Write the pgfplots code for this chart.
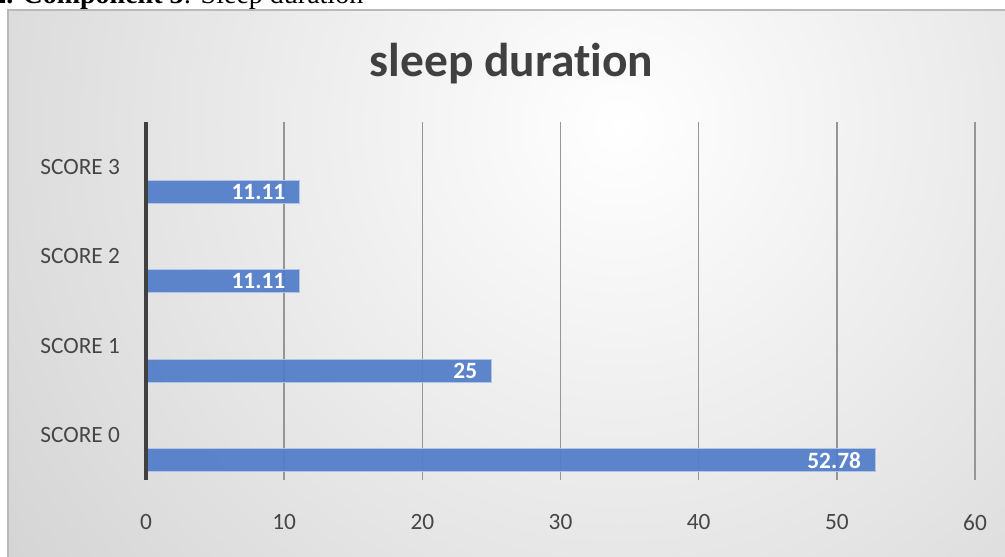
\documentclass[border=0pt]{standalone}
\usepackage{pgfplots}
\pgfplotsset{compat=1.18}
\usepackage{fontspec}
\setmainfont{Carlito}[Ligatures=NoCommon]
\newfontfamily\timesfont{Liberation Serif}
\definecolor{barblue}{RGB}{80,124,201}
\definecolor{txtgray}{RGB}{70,70,70}
\definecolor{titlegray}{RGB}{64,64,64}
\definecolor{gridgray}{RGB}{150,150,150}
\definecolor{bordergray}{RGB}{185,185,185}
\definecolor{bggray}{RGB}{190,190,190}
\begin{document}
\begin{tikzpicture}[x=0.75pt,y=0.75pt]
\useasboundingbox (0,0) rectangle (1005,556);
\begin{scope}
\clip (0,0) rectangle (1005,556);
\node[anchor=base west, inner sep=0, font=\timesfont\fontsize{21}{25}\selectfont] at (-8,552) {\textbf{2. Component 3}: Sleep duration};
\begin{scope}
\clip (8,-10) rectangle (1015,546);
\shade[inner color=white, outer color=bggray] (620,430) circle (1150);
\end{scope}
\draw[bordergray, line width=1.1pt] (8,-10) -- (8,546) -- (1015,546);
\end{scope}
\node[font=\bfseries\fontsize{35.6}{40}\selectfont, text=titlegray, anchor=base] at (511.5,479) {sleep duration};
\begin{axis}[
  at={(109.5pt,57pt)}, anchor=south west,
  scale only axis, width=621.75pt, height=268.5pt,
  xbar, xmin=0, xmax=60, ymin=-0.5, ymax=3.5,
  ytick={0,1,2,3}, yticklabels={SCORE 0,SCORE 1,SCORE 2,SCORE 3},
  xtick={0,10,20,30,40,50,60},
  xmajorgrids, major grid style={gridgray, line width=1.1pt},
  axis lines*=left,
  x axis line style={draw=none},
  y axis line style={titlegray, line width=3pt},
  major tick length=0pt,
  tick label style={font=\fontsize{17.5}{20}\selectfont, text=txtgray},
  /pgf/number format/assume math mode=true,
  yticklabel style={xshift=-16pt},
  xticklabel style={yshift=-22.5pt},
  bar width=17.5pt, bar shift=-18.75pt,
  nodes near coords,
  nodes near coords style={font=\bfseries\fontsize{17.5}{20}\selectfont, text=white, anchor=east, xshift=-7pt, fill opacity=1, text opacity=1},
  clip=false,
]
\addplot[fill=barblue, fill opacity=0.92, draw=barblue!45!white, line width=0.8pt] coordinates {(52.78,0) (25,1) (11.11,2) (11.11,3)};
\draw[titlegray, line width=3pt] (axis cs:0,-0.5) -- (axis cs:0,3.5);
\end{axis}
\end{tikzpicture}
\end{document}
